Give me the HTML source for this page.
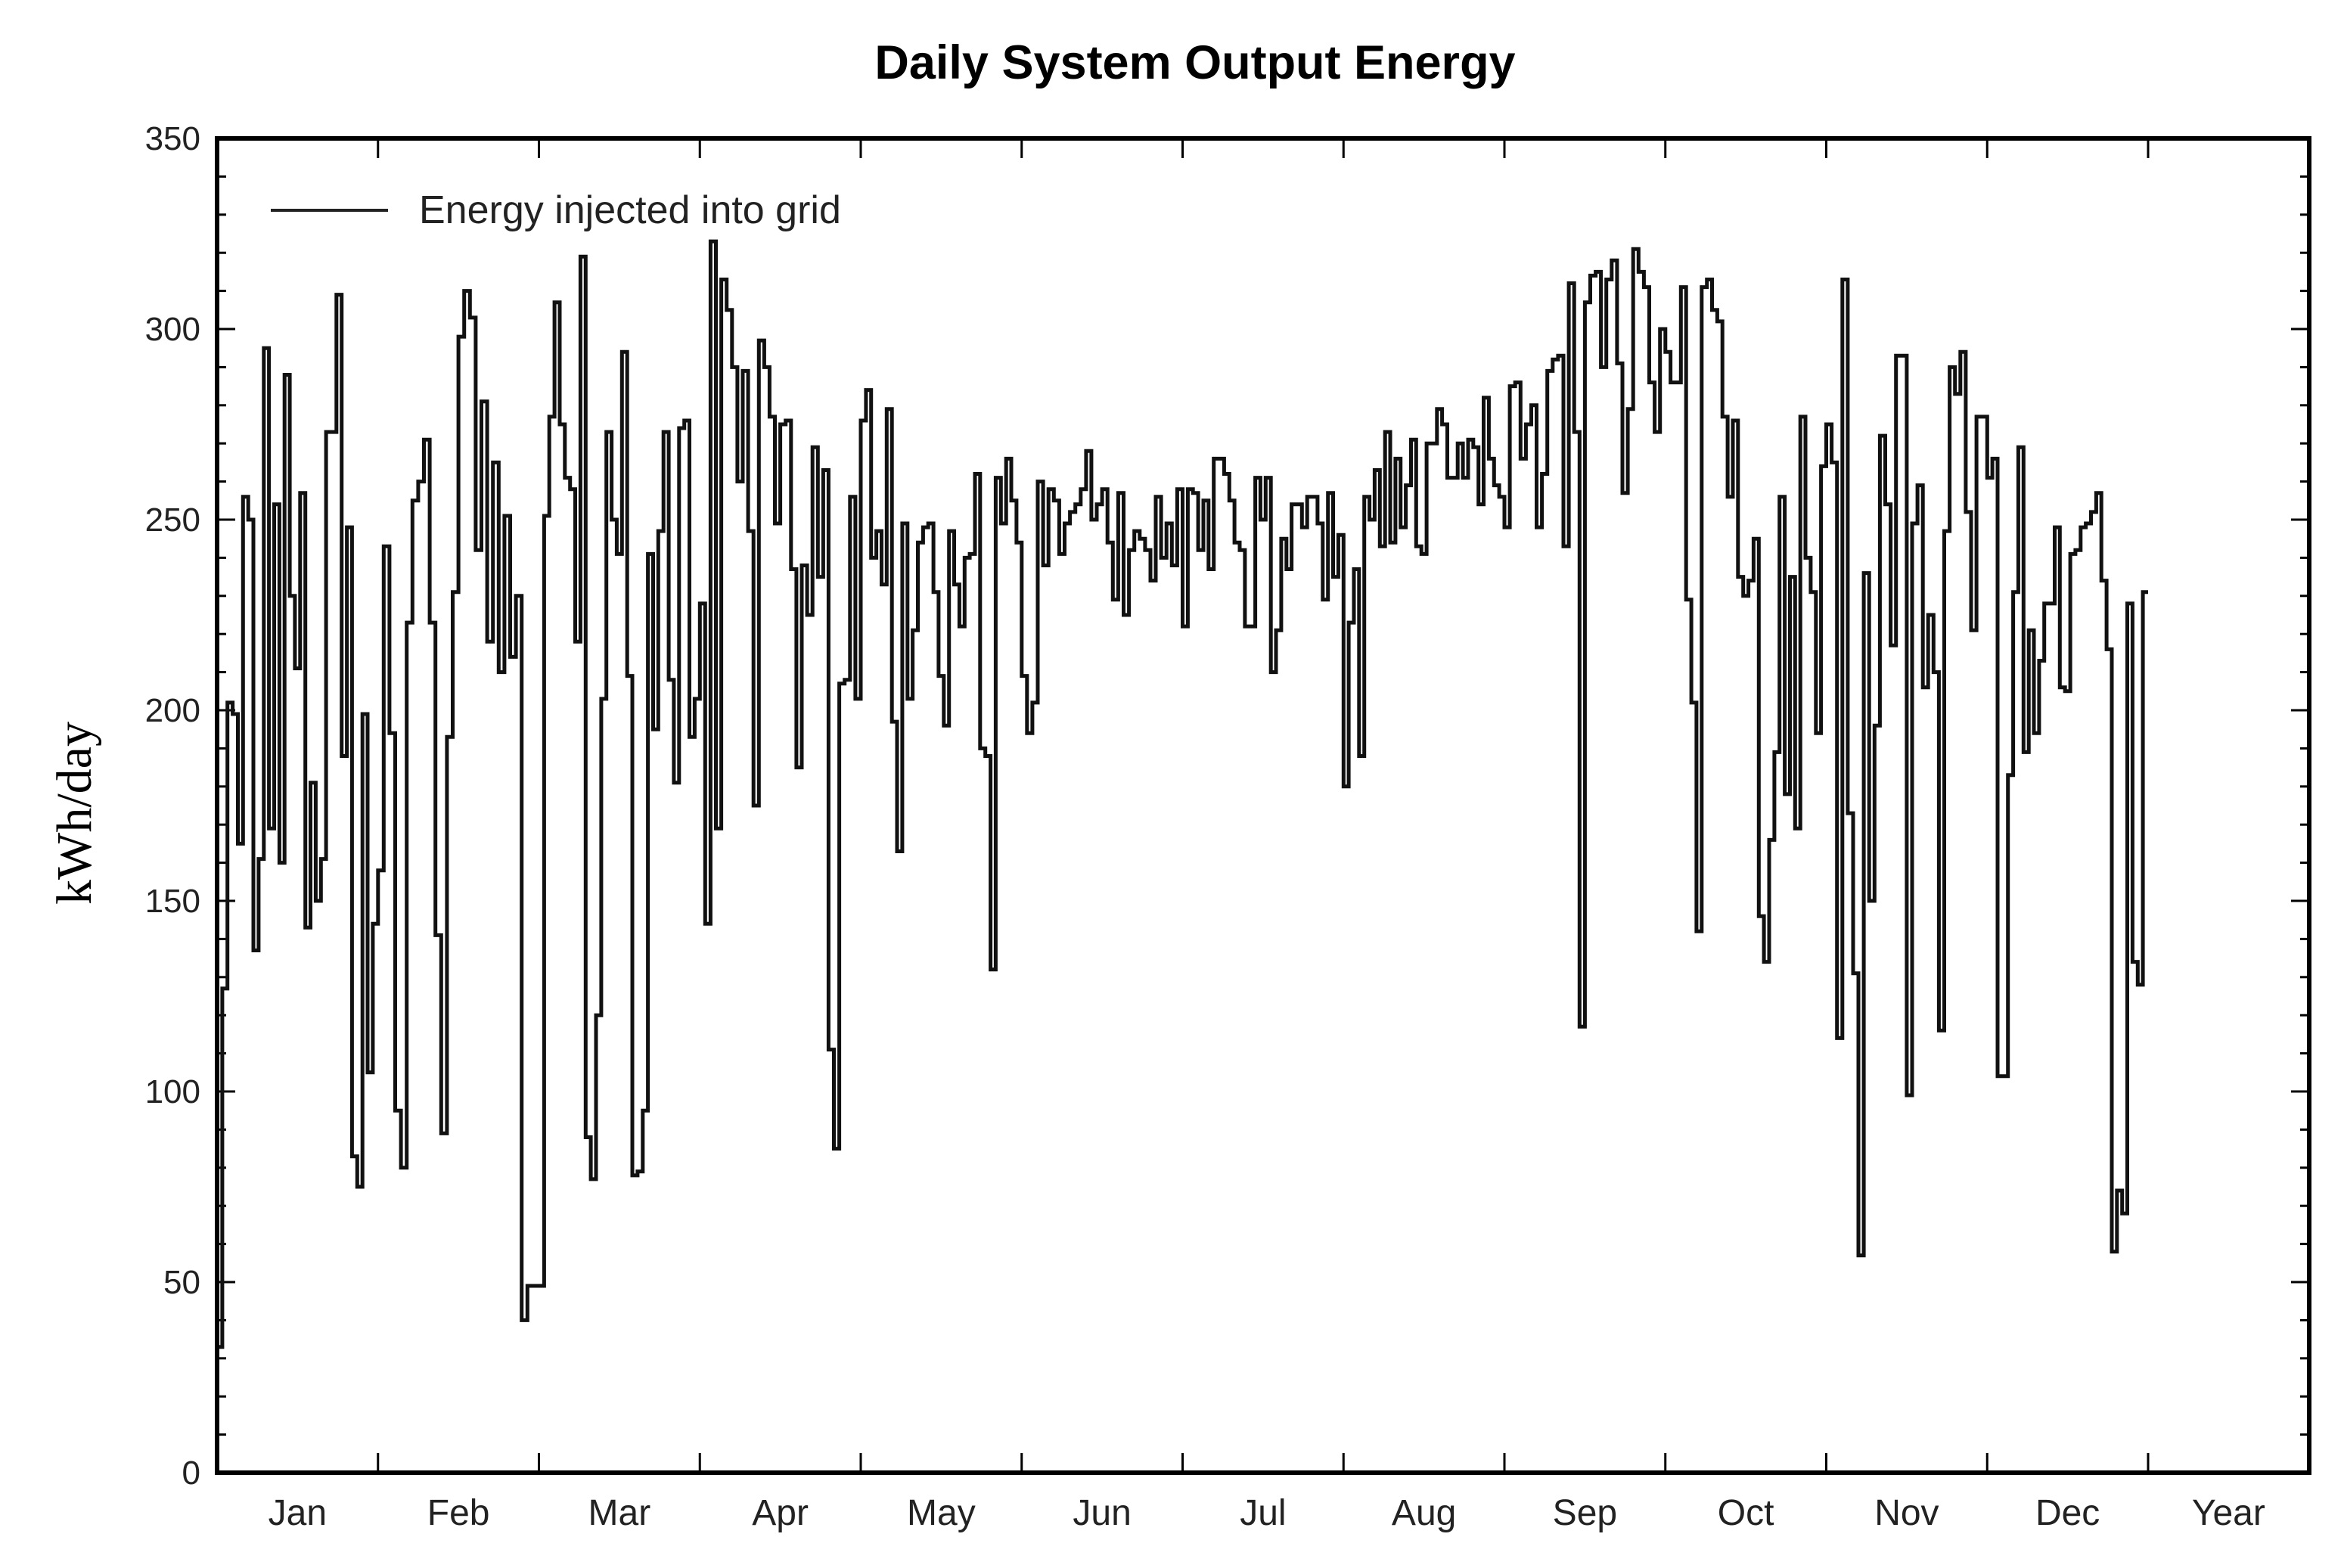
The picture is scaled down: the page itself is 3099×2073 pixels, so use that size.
<!DOCTYPE html>
<html><head><meta charset="utf-8"><style>
html,body{margin:0;padding:0;background:#fff;}
svg{display:block;}
</style></head><body>
<svg id="chart" width="3099" height="2073" viewBox="0 0 3099 2073" xmlns="http://www.w3.org/2000/svg">
<text x="1580" y="104" text-anchor="middle" font-family="Liberation Sans, sans-serif" font-weight="bold" font-size="63">Daily System Output Energy</text>
<text transform="translate(120,1075) rotate(-90)" text-anchor="middle" font-family="Liberation Serif, serif" font-size="66">kWh/day</text>
<g id="axes"></g>
<path id="series" fill="none" stroke="#111" stroke-width="5" stroke-linejoin="miter"></path>
<rect x="287" y="183" width="2766" height="1764" fill="none" stroke="#000" stroke-width="6"></rect>
<g>
<line x1="358" y1="278" x2="513" y2="278" stroke="#222" stroke-width="4"></line>
<text x="554" y="295" font-family="Liberation Sans, sans-serif" font-size="52" fill="#222">Energy injected into grid</text>
</g>
</svg>
<script>
const months = ["Jan","Feb","Mar","Apr","May","Jun","Jul","Aug","Sep","Oct","Nov","Dec","Year"];
const monthDays = [31,28,31,30,31,30,31,31,30,31,30,31];
const yTicks = [0,50,100,150,200,250,300,350];
const energy = [
33,127,202,199,165,256,250,137,161,295,169,254,160,288,230,211,257,143,181,150,
161,273,273,309,188,248,83,75,199,105,144,158,243,194,95,80,223,255,260,271,
223,141,89,193,231,298,310,303,242,281,218,265,210,251,214,230,40,49,49,49,
251,277,307,275,261,258,218,319,88,77,120,203,273,250,241,294,209,78,79,95,
241,195,247,273,208,181,274,276,193,203,228,144,323,169,313,
305,290,260,289,247,175,297,290,
277,249,275,276,237,185,238,225,269,235,
263,111,85,207,208,256,203,276,284,240,
247,233,279,197,163,249,203,221,244,248,
249,231,209,196,247,233,222,240,241,262,
190,188,132,261,249,266,255,244,209,
194,202,260,238,258,255,241,249,252,254,
258,268,250,254,258,244,229,257,225,
242,247,245,242,234,256,240,249,238,
258,222,258,257,242,255,237,266,
266,262,255,244,242,222,222,261,250,261,
210,221,245,237,254,254,248,256,256,249,
229,257,235,246,180,223,237,188,256,250,
263,243,273,244,266,248,259,271,243,241,
270,270,279,275,261,261,270,261,271,269,
254,282,266,259,256,248,285,286,266,275,
280,248,262,289,292,293,243,312,273,117,
307,314,315,290,313,318,291,257,279,321,
315,311,286,273,300,294,286,286,311,229,
202,142,311,313,
305,302,277,256,276,235,230,234,245,
146,134,166,189,256,178,235,169,277,240,
231,194,264,275,265,114,313,173,131,57,
236,150,196,272,254,217,293,293,99,249,
259,206,225,210,116,247,290,283,294,252,
221,277,277,261,266,104,104,183,231,269,
189,221,194,213,228,228,248,206,205,241,
242,248,249,252,257,234,216,58,74,68,
228,134,128,231
];
const L=287,R=3053,T=183,B=1947,monthW=(2840-287)/12;
function yScale(v){return B-(v/350)*(B-T);}
function xDay(i){
  let m=0,d=i;
  while(m<11 && d>=monthDays[m]){d-=monthDays[m];m++;}
  return L+(m+d/monthDays[m])*monthW;
}
const NS="http://www.w3.org/2000/svg";
const axes=document.getElementById('axes');
function mk(tag,attrs){const e=document.createElementNS(NS,tag);for(const k in attrs)e.setAttribute(k,attrs[k]);axes.appendChild(e);return e;}
for(let v=0;v<=350;v+=10){
  const y=yScale(v),len=(v%50===0)?24:12;
  const a=mk('line',{x1:L,x2:L+len,y1:y,y2:y,stroke:'#000','stroke-width':3});
  
  
  const b=mk('line',{x1:R,x2:R-len,y1:y,y2:y,stroke:'#000','stroke-width':3});
  
  
}
yTicks.forEach(v=>{
  const t=mk('text',{x:L-22,y:yScale(v)+15,'text-anchor':'end','font-family':'Liberation Sans, sans-serif','font-size':44,fill:'#222'});
  t.textContent=v;
  
  
});
for(let k=1;k<=12;k++){
  const x=L+k*monthW;
  const a=mk('line',{x1:x,x2:x,y1:B,y2:B-26,stroke:'#000','stroke-width':3});
  
  
  const b=mk('line',{x1:x,x2:x,y1:T,y2:T+26,stroke:'#000','stroke-width':3});
  
  
}
months.forEach((m,k)=>{
  const t=mk('text',{x:L+(k+0.5)*monthW,y:2016,'text-anchor':'middle','font-family':'Liberation Sans, sans-serif','font-size':48,fill:'#222'});
  t.textContent=m;
  
  
});
let d='';
energy.forEach((v,i)=>{
  const x0=xDay(i),x1=(i+1<energy.length)?xDay(i+1):L+12*monthW,y=yScale(v);
  d+=(i===0?'M':'L')+x0.toFixed(1)+','+y.toFixed(1)+'L'+x1.toFixed(1)+','+y.toFixed(1);
});
document.getElementById('series').setAttribute('d',d);
</script>
</body></html>
